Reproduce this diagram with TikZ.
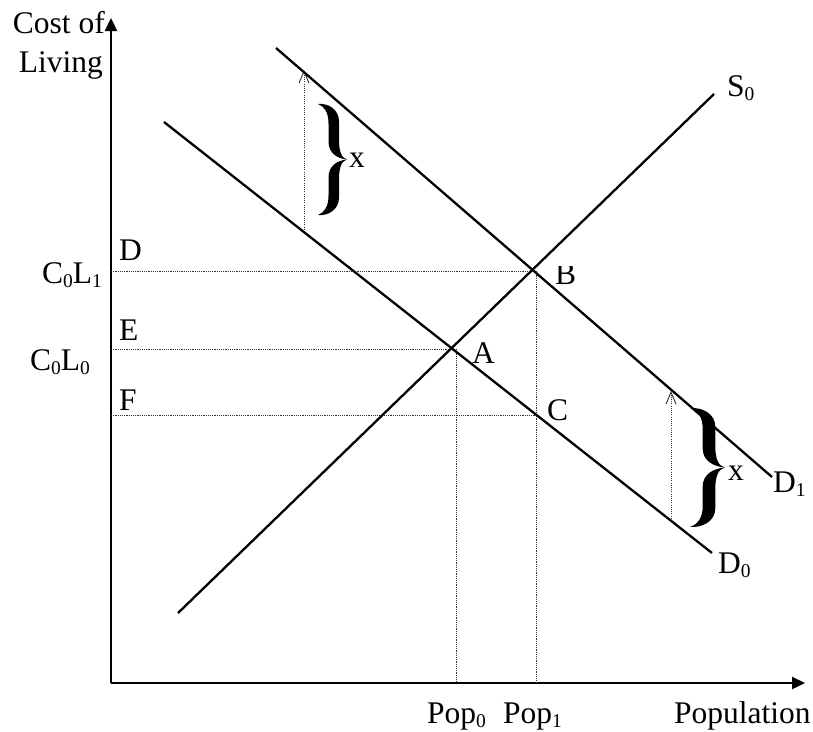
\documentclass[tikz,border=0pt]{standalone}
\usepackage{fontspec}
\setmainfont{Liberation Serif}
\usetikzlibrary{arrows.meta}
\newcommand\sbs[1]{\raisebox{-4pt}{\fontsize{19.5}{20}\selectfont #1}}
\begin{document}
\begin{tikzpicture}[x=1pt,y=-1pt,
  curve/.style={line width=2.3pt},
  axisline/.style={line width=2.3pt,-{Triangle[length=13pt,width=12pt]}},
  guide/.style={line width=0.9pt,black!80,dash pattern=on 1.1pt off 1.1pt},
  shiftarrow/.style={guide,-{Straight Barb[length=12pt,width=10pt,line width=0.9pt]}},
  lbl/.style={inner sep=0pt,font=\fontsize{31.5}{36}\selectfont},
  cbrace/.pic={
    \fill (-14.5,-55.5) .. controls (-4,-56.5) and (6.5,-50) .. (6.5,-38)
      -- (6.5,-20) .. controls (6.5,-8) and (9,-1.5) .. (14.5,0)
      .. controls (5,-1) and (-4,-6) .. (-4,-18)
      -- (-4,-36) .. controls (-4,-47) and (-8,-53) .. (-14.5,-55.5) -- cycle;
    \fill (-14.5,55.5) .. controls (-4,56.5) and (6.5,50) .. (6.5,38)
      -- (6.5,20) .. controls (6.5,8) and (9,1.5) .. (14.5,0)
      .. controls (5,1) and (-4,6) .. (-4,18)
      -- (-4,36) .. controls (-4,47) and (-8,53) .. (-14.5,55.5) -- cycle;
  }]
\useasboundingbox (0,0) rectangle (813,731);
% axes
\coordinate (O) at (111,683);
\coordinate (ytop) at (111,18);
\coordinate (xend) at (805,683);
\draw[axisline] (O) -- (ytop);
\draw[axisline] (O) -- (xend);
% curve end points
\coordinate (d0a) at (164,122);
\coordinate (d0b) at (712,553);
\coordinate (d1a) at (276,48);
\coordinate (d1b) at (772,477);
\coordinate (s0a) at (178,613);
\coordinate (s0b) at (714,94);
% points
\coordinate (A) at (452,349);
\coordinate (B) at (534,271);
\coordinate (C) at (536,415);
\coordinate (yD) at (111,271);
\coordinate (yE) at (111,349);
\coordinate (yF) at (111,415);
\coordinate (xA0) at (456,349);
\coordinate (xA) at (456,683);
\coordinate (xB0) at (536,271);
\coordinate (xB) at (536,683);
% guides
\draw[guide] (yD) -- (B);
\draw[guide] (yE) -- (A);
\draw[guide] (yF) -- (C);
\draw[guide] (xA0) -- (xA);
\draw[guide] (xB0) -- (xB);
% shift arrows
\coordinate (s1a) at (304,232);
\coordinate (s1b) at (304,70);
\coordinate (s2a) at (671,521);
\coordinate (s2b) at (671,391);
\draw[shiftarrow] (s1a) -- (s1b);
\draw[shiftarrow] (s2a) -- (s2b);
% curves
\draw[curve] (d0a) -- (d0b);
\draw[curve] (d1a) -- (d1b);
\draw[curve] (s0a) -- (s0b);
% braces
\pic (br1) at (332.5,159.5) {cbrace};
\pic[xscale=1.2,yscale=1.07] (br2) at (707.5,467.5) {cbrace};
% labels
\node[lbl,anchor=base east] (cost) at (105,33) {Cost of};
\node[lbl,anchor=base east] (living) at (103,72) {Living};
\node[lbl,anchor=base east] (c0l1) at (102,283) {C\sbs{0}L\sbs{1}};
\node[lbl,anchor=base east] (c0l0) at (90,370) {C\sbs{0}L\sbs{0}};
\node[lbl,anchor=base west] (lD) at (119,260) {D};
\node[lbl,anchor=base west] (lE) at (119,340) {E};
\node[lbl,anchor=base west] (lF) at (119,410) {F};
\begin{scope}
\clip (545,266) rectangle (590,295);
\node[lbl,anchor=base west] (lB) at (555,284) {B};
\end{scope}
\node[lbl,anchor=base west] (lA) at (472,363) {A};
\node[lbl,anchor=base west] (lC) at (547,420) {C};
\node[lbl,anchor=base west] (lS0) at (727,96) {S\sbs{0}};
\node[lbl,anchor=base west] (lD1) at (773,492) {D\sbs{1}};
\node[lbl,anchor=base west] (lD0) at (718,573) {D\sbs{0}};
\node[lbl,anchor=base west] (lx1) at (349,167) {x};
\node[lbl,anchor=base west] (lx2) at (728,480) {x};
\node[lbl,anchor=base west] (pop0) at (427,723) {Pop\sbs{0}};
\node[lbl,anchor=base west] (pop1) at (503,723) {Pop\sbs{1}};
\node[lbl,anchor=base west] (popu) at (674,723) {Population};
\end{tikzpicture}
\end{document}
